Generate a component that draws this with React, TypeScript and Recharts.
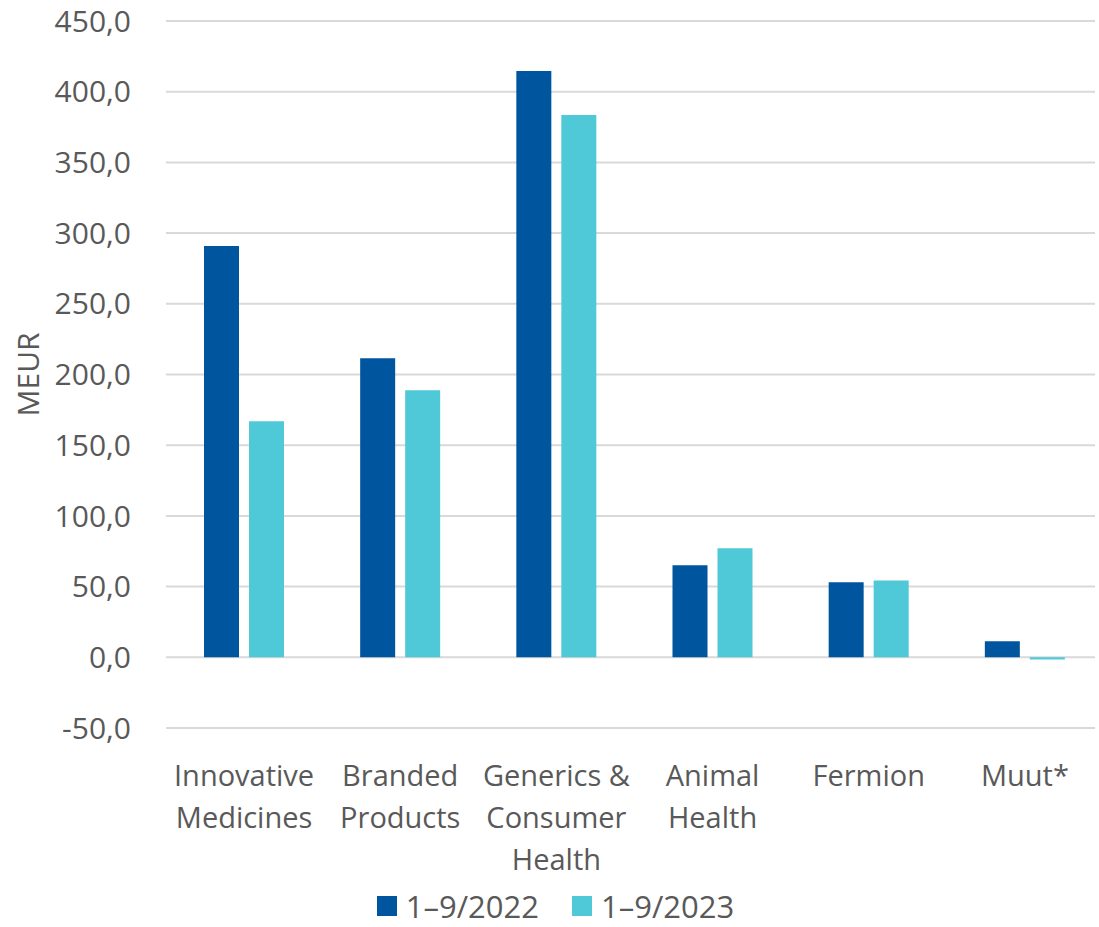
import React from 'react';
import { BarChart, Bar, XAxis, YAxis, CartesianGrid, Legend, Label } from 'recharts';

const categories = ['Innovative Medicines', 'Branded Products', 'Generics & Consumer Health', 'Animal Health', 'Fermion', 'Muut*'];
const categoryLines: string[][] = [
  ['Innovative', 'Medicines'],
  ['Branded', 'Products'],
  ['Generics &', 'Consumer', 'Health'],
  ['Animal', 'Health'],
  ['Fermion'],
  ['Muut*'],
];
const values2022 = [290.8, 211.5, 414.7, 65.1, 53.0, 11.3];
const values2023 = [167.0, 188.9, 383.6, 77.1, 54.4, -1.5];
const yTicks = [-50, 0, 50, 100, 150, 200, 250, 300, 350, 400, 450];
const seriesNames = ['1–9/2022', '1–9/2023'];
const colors = ['#00559F', '#4FC8D8'];

const data = categories.map((c, i) => ({ name: c, idx: i, a: values2022[i], b: values2023[i] }));

const FONT = '"Open Sans", "Noto Sans", sans-serif';
const TEXT = '#595959';
const FS = 29;

const fmt = (v: number) => v.toFixed(1).replace('.', ',');

const CatTick = (props: any) => {
  const { x, y, payload } = props;
  const idx = categories.indexOf(payload.value);
  const lines = categoryLines[idx] || [payload.value];
  return (
    <g>
      {lines.map((l, i) => (
        <text key={i} x={x} y={y + 50 + i * 42} textAnchor="middle" fill={TEXT} fontSize={FS} fontFamily={FONT}>
          {l}
        </text>
      ))}
    </g>
  );
};

const LegendContent = () => (
  <div style={{ display: 'flex', justifyContent: 'center', alignItems: 'center', fontFamily: FONT, fontSize: 31, lineHeight: 'normal', color: TEXT, paddingTop: 22, paddingLeft: 16 }}>
    {seriesNames.map((n, i) => (
      <div key={n} style={{ display: 'flex', alignItems: 'center', marginLeft: i ? 33 : 0 }}>
        <div style={{ width: 20, height: 20, background: colors[i], marginRight: 9 }} />
        <span>{n}</span>
      </div>
    ))}
  </div>
);

export default function App() {
  return (
    <div style={{ position: 'absolute', left: 0, top: 0, background: '#fff' }}>
      <BarChart
        width={1099}
        height={927}
        data={data}
        margin={{ top: 21, right: 4, left: 0, bottom: 0 }}
        barGap={10}
        barSize={35}
      >
        <CartesianGrid vertical={false} stroke="#D9D9D9" strokeWidth={2} />
        <XAxis dataKey="name" axisLine={false} tickLine={false} height={135} tick={<CatTick />} interval={0} padding={{ left: 0, right: -8 }} />
        <YAxis
          width={166}
          domain={[-50, 450]}
          ticks={yTicks}
          interval={0}
          axisLine={false}
          tickLine={false}
          tickFormatter={fmt}
          tick={{ fill: TEXT, fontSize: 30, fontFamily: FONT }}
          tickMargin={29}
        >
          <Label value="MEUR" angle={-90} position="insideLeft" offset={28} style={{ fill: TEXT, fontSize: 30, fontFamily: FONT, textAnchor: 'middle' }} />
        </YAxis>
        <Legend verticalAlign="bottom" height={64} wrapperStyle={{ overflow: 'visible' }} content={<LegendContent />} />
        <Bar dataKey="a" name={seriesNames[0]} fill={colors[0]} isAnimationActive={false} />
        <Bar dataKey="b" name={seriesNames[1]} fill={colors[1]} isAnimationActive={false} />
      </BarChart>
    </div>
  );
}
